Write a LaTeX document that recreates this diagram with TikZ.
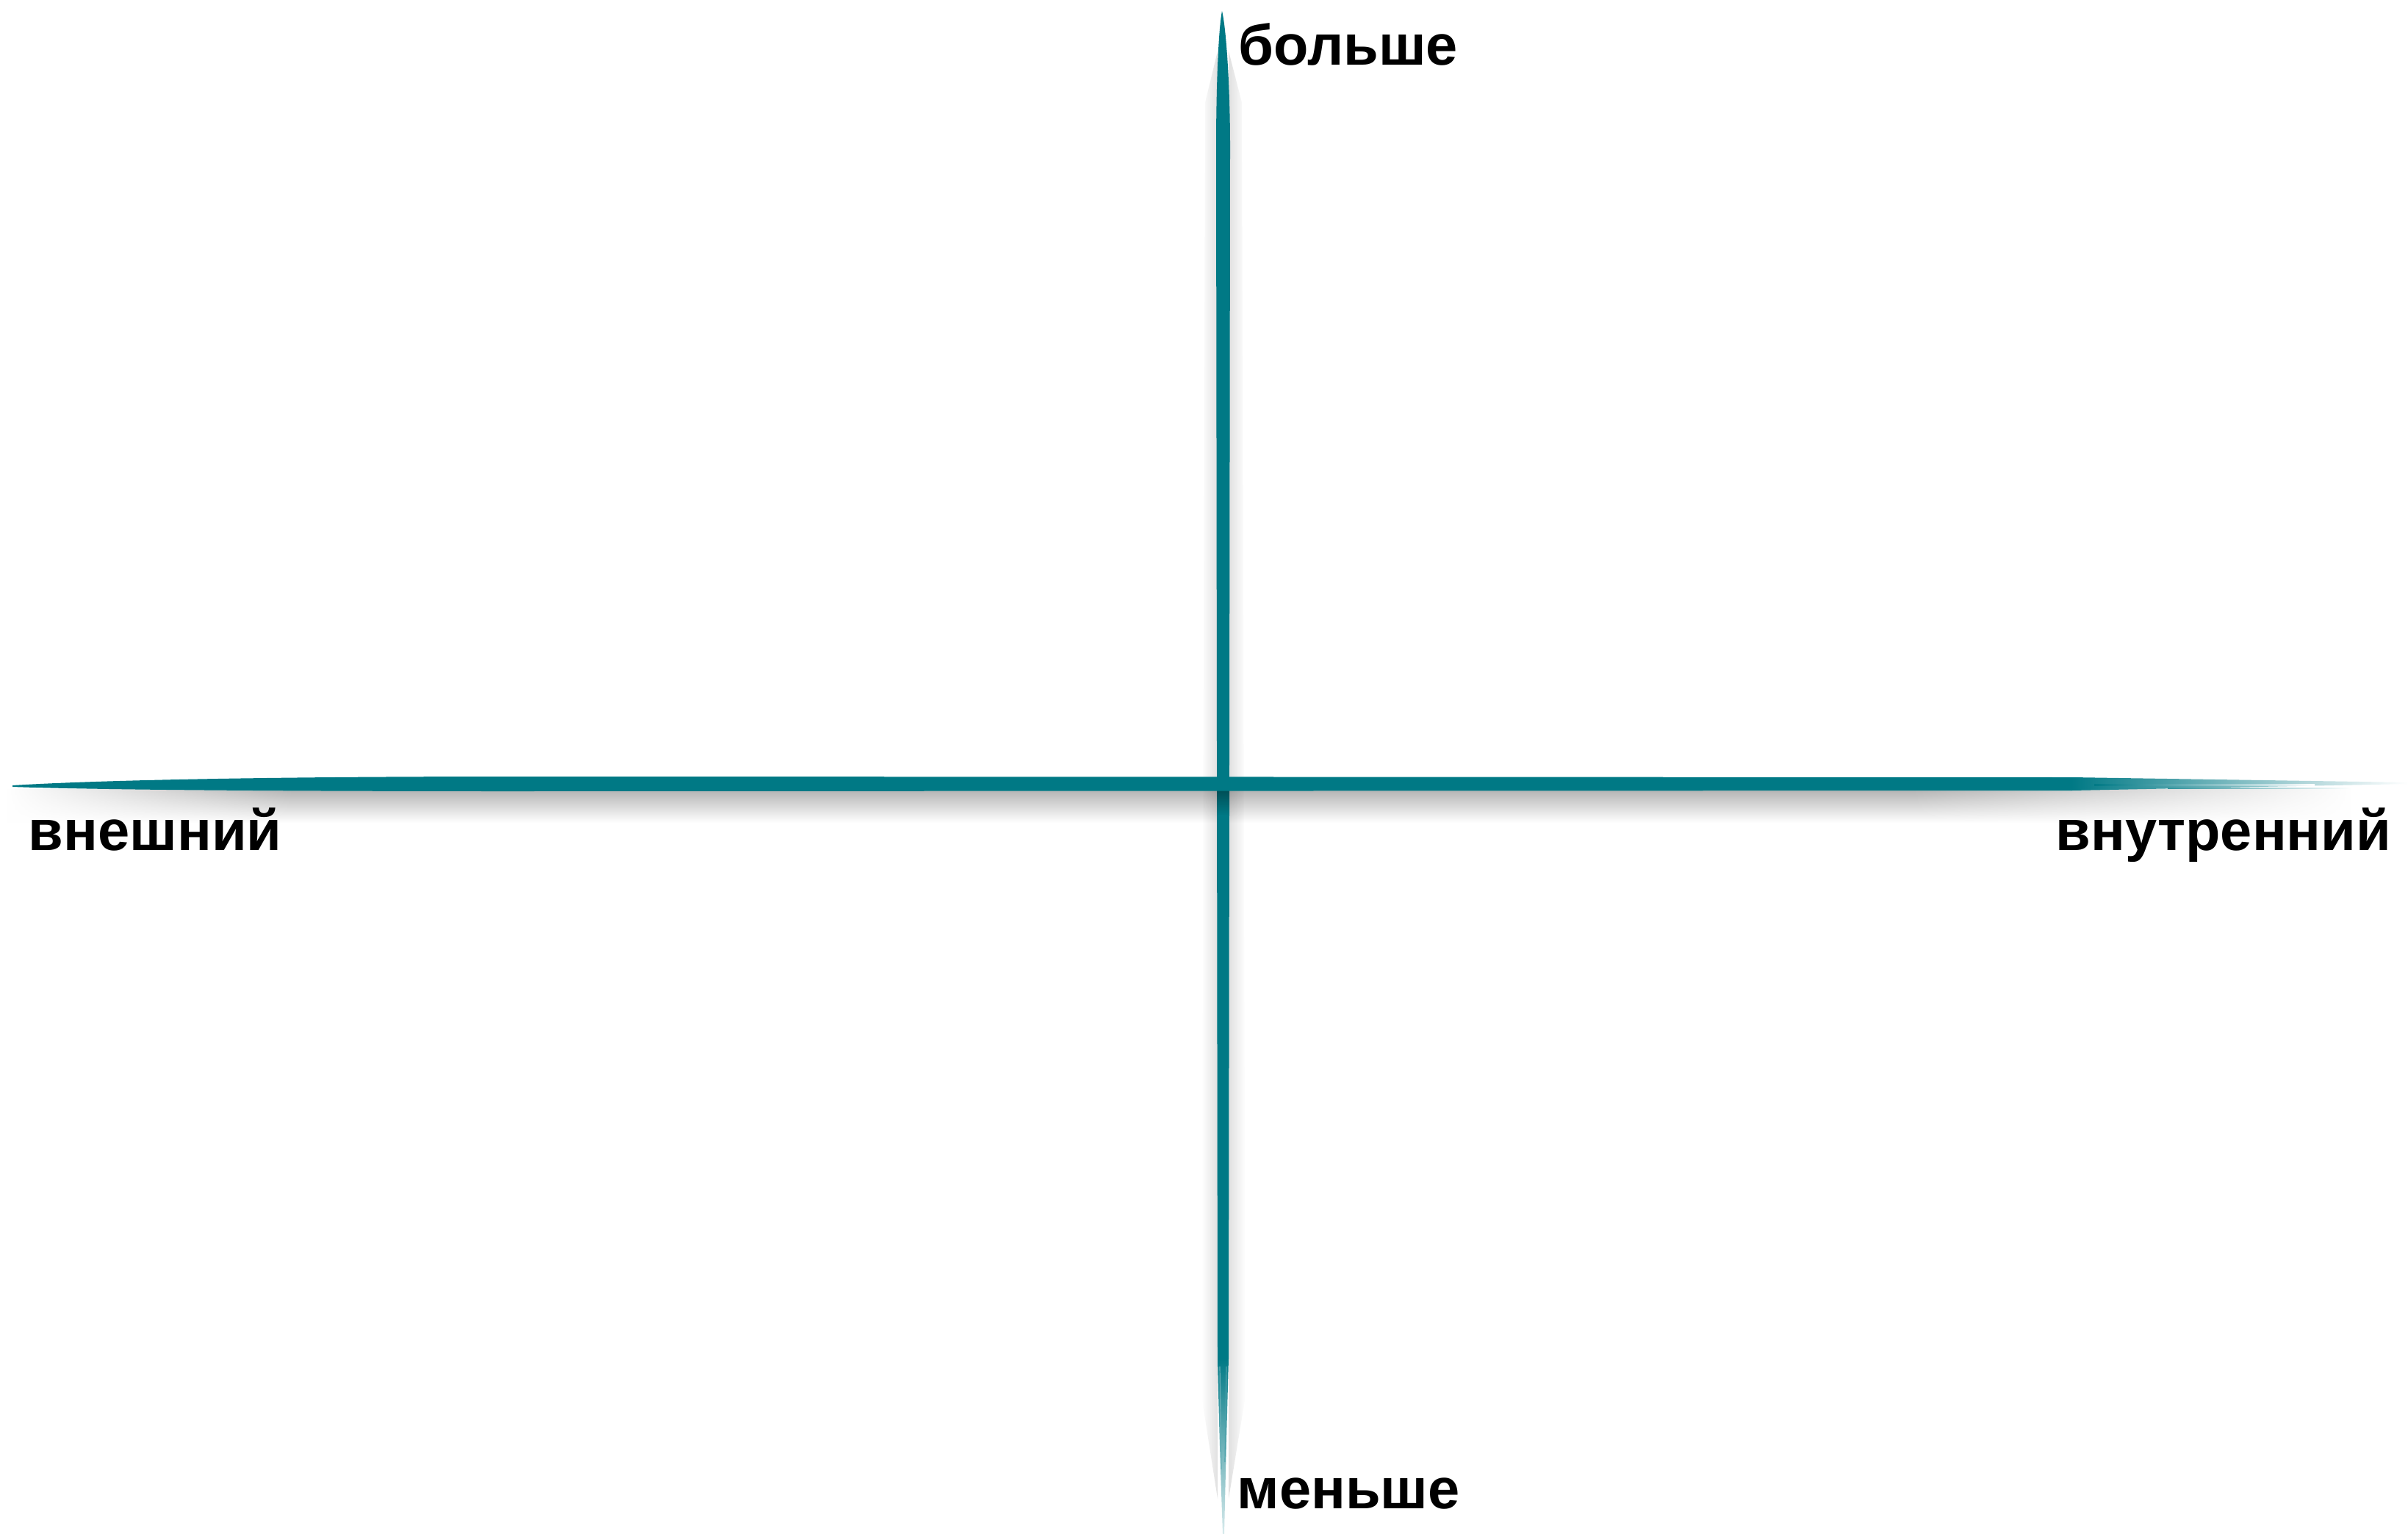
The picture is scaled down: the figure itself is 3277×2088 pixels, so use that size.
\documentclass[tikz,border=0pt]{standalone}
\usepackage{fontspec}
\setmainfont{Liberation Sans}
\usetikzlibrary{fadings}
\definecolor{axisc}{RGB}{0,121,133}
\tikzset{
  lbl/.style={inner sep=0pt, font=\fontsize{19.4pt}{24pt}\selectfont\bfseries, text=black},
  barfill/.style={fill=axisc, draw=none},
}
\begin{document}
\begin{tikzpicture}[x=0.25pt, y=-0.25pt]
\fill[white] (0,0) rectangle (3277,2088);
\useasboundingbox (0,0) rectangle (3277,2088);

% named end points of the axes
\coordinate (vtop) at (1663,15);
\coordinate (vbot) at (1665,2088);
\coordinate (hleft) at (17,1069);
\coordinate (hright) at (3277,1066);

% soft shadows
\shade[top color=black!30, bottom color=white, path fading=west]
  (10,1074) rectangle (400,1120);
\shade[top color=black!30, bottom color=white]
  (399,1074) rectangle (2601,1120);
\shade[top color=black!30, bottom color=white, path fading=east]
  (2600,1074) rectangle (3200,1120);
\fill[black, opacity=0.12, path fading=west]
  (1657,70) -- (1640,140) -- (1635,1900) -- (1657,2040) -- cycle;
\fill[black, opacity=0.12, path fading=east]
  (1672,70) -- (1690,140) -- (1695,1900) -- (1672,2040) -- cycle;

% vertical axis
\fill[barfill]
  (vtop) .. controls (1658,40) and (1655,120) .. (1655,200)
  -- (1657,1850) -- (1672,1850) -- (1674,200)
  .. controls (1674,120) and (1669,40) .. (vtop) -- cycle;
\shade[top color=axisc, bottom color=axisc!15]
  (1657,1849) .. controls (1659,1950) and (1662,2030) .. (1664,2088)
  -- (1666,2088) .. controls (1668,2000) and (1670,1920) .. (1672,1849) -- cycle;
\draw[axisc!60, line width=0.3pt] (1660,1860) -- (1662,2000);
\draw[axisc!70, line width=0.3pt] (1669,1860) -- (1667,1990);
% shadow of the horizontal bar falling on the vertical bar
\shade[top color=black!35!axisc, bottom color=axisc] (1656,1076) rectangle (1673,1110);

% horizontal axis
\fill[barfill]
  (hleft) .. controls (150,1061) and (400,1057) .. (700,1057)
  -- (2820,1058) -- (2820,1076) -- (700,1077)
  .. controls (300,1077) and (100,1074) .. (17,1071) -- cycle;
\shade[left color=axisc, right color=white]
  (2819,1058) -- (3277,1065) -- (hright) -- (3277,1067) -- (2819,1076) -- cycle;
\shade[left color=axisc, right color=white] (2850,1067) rectangle (3150,1069);
\shade[left color=axisc!80, right color=white] (2950,1072) rectangle (3200,1073);

% labels
\node[lbl, anchor=base west] (more) at (1685,88) {больше};
\node[lbl, anchor=base west] (less) at (1683,2053) {меньше};
\node[lbl, anchor=base west] (outer) at (38,1157) {внешний};
\node[lbl, anchor=base east] (inner) at (3255,1157) {внутренний};
\end{tikzpicture}
\end{document}
